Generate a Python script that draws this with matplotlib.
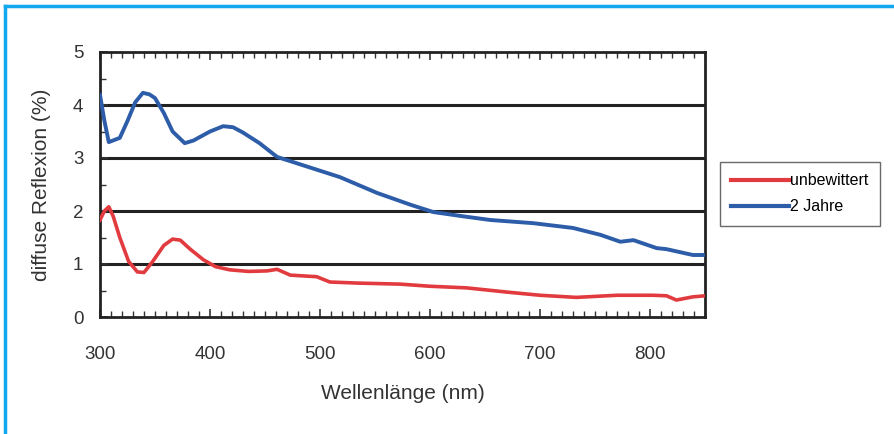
import matplotlib.pyplot as plt
from matplotlib.ticker import MultipleLocator
from matplotlib.lines import Line2D

# wavelength (nm) and diffuse reflection (%)
wl_neu = [300, 304, 308, 312, 318, 326, 334, 340, 348, 358, 366, 373, 382, 394,
          405, 418, 435, 452, 461, 473, 497, 509, 534, 573, 600, 633, 670, 700,
          733, 770, 803, 815, 824, 839, 850]
refl_neu = [1.83, 2.0, 2.08, 1.9, 1.5, 1.05, 0.85, 0.84, 1.05, 1.35, 1.47, 1.45,
            1.28, 1.08, 0.95, 0.89, 0.86, 0.87, 0.9, 0.79, 0.76, 0.66, 0.64, 0.62,
            0.58, 0.55, 0.47, 0.41, 0.37, 0.41, 0.41, 0.4, 0.32, 0.38, 0.4]

wl_2j = [300, 304, 308, 318, 325, 332, 339, 345, 350, 358, 366, 377, 385, 400,
         412, 421, 430, 445, 461, 479, 518, 552, 582, 603, 630, 655, 694, 730,
         755, 773, 785, 806, 815, 839, 850]
refl_2j = [4.19, 3.7, 3.3, 3.38, 3.7, 4.05, 4.23, 4.2, 4.13, 3.85, 3.5, 3.28, 3.33,
           3.5, 3.6, 3.58, 3.48, 3.28, 3.02, 2.9, 2.64, 2.34, 2.12, 1.98, 1.9, 1.83,
           1.77, 1.68, 1.55, 1.42, 1.45, 1.3, 1.28, 1.17, 1.17]

labels = ["unbewittert", "2 Jahre"]
colors = ["#e23b3f", "#2d5ca8"]

plt.rcParams['font.family'] = ['Liberation Sans', 'DejaVu Sans']

fig = plt.figure(figsize=(8.95, 4.34), dpi=100)
ax = fig.add_axes([100 / 895, 117 / 434, 605 / 895, 265 / 434])

for yv in [1, 2, 3, 4]:
    ax.axhline(yv, color="#222222", lw=2.2, zorder=1)

ax.plot(wl_neu, refl_neu, color=colors[0], lw=2.6, zorder=3, solid_joinstyle="round")
ax.plot(wl_2j, refl_2j, color=colors[1], lw=2.8, zorder=3, solid_joinstyle="round")

ax.set_xlim(300, 850)
ax.set_ylim(0, 5)
ax.xaxis.set_major_locator(MultipleLocator(100))
ax.xaxis.set_minor_locator(MultipleLocator(10))
ax.yaxis.set_major_locator(MultipleLocator(1))
ax.yaxis.set_minor_locator(MultipleLocator(0.5))
ax.tick_params(axis="both", which="both", direction="in", top=True, colors="#333333",
               labelcolor="#333333", labelsize=13.5)
ax.tick_params(which="major", length=6, width=1.2)
ax.tick_params(which="minor", length=4, width=1.0)
ax.tick_params(axis="x", pad=21)
ax.tick_params(axis="y", pad=12)
for s in ax.spines.values():
    s.set_linewidth(2)
    s.set_color("#222222")

ax.set_xlabel("Wellenlänge (nm)", fontsize=15, color="#333333", labelpad=15)
ax.set_ylabel("diffuse Reflexion (%)", fontsize=15, color="#333333", labelpad=16)

handles = [Line2D([], [], color=c, lw=3) for c in colors]
fig.legend(handles, labels, loc="upper left", bbox_to_anchor=(712 / 895, 1 - 154 / 434),
           frameon=True, fancybox=False, edgecolor="#444444", fontsize=11.5,
           handlelength=3.6, handletextpad=0.1, borderpad=0.7, labelspacing=0.7)

# light blue frame of the page
fig.add_artist(Line2D([5 / 895, 5 / 895], [0, 1 - 6 / 434], color="#12a8ee", lw=2.5))
fig.add_artist(Line2D([5 / 895, 1], [1 - 6 / 434, 1 - 6 / 434], color="#12a8ee", lw=2.5))

fig.savefig("out.png", dpi=100)
